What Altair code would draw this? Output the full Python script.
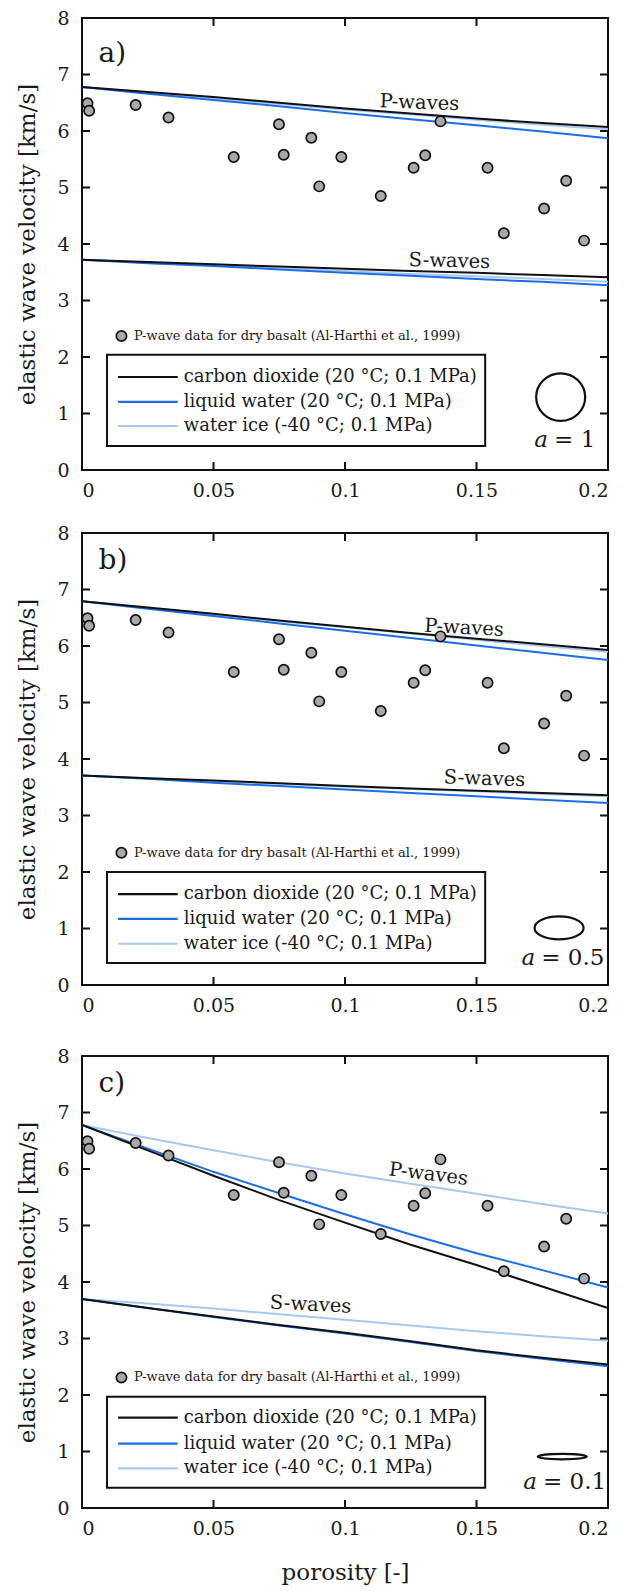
import altair as alt
import pandas as pd

# ---------------- data ----------------
# P-wave data for dry basalt (Al-Harthi et al., 1999)
phi_data = [0.0021, 0.0027, 0.0204, 0.0329, 0.0577, 0.0749, 0.0767, 0.0872, 0.0902, 0.0986,
            0.1136, 0.1261, 0.1305, 0.1363, 0.1542, 0.1604, 0.1757, 0.1841, 0.1909]
vp_data = [6.49, 6.36, 6.46, 6.24, 5.54, 6.12, 5.58, 5.88, 5.02, 5.54,
           4.85, 5.35, 5.57, 6.17, 5.35, 4.19, 4.63, 5.12, 4.06]

phi_grid = [0, 0.025, 0.05, 0.075, 0.1, 0.125, 0.15, 0.175, 0.2]

# panel a) aspect ratio 1
a_p_co2 = [6.78, 6.69, 6.60, 6.50, 6.40, 6.31, 6.22, 6.14, 6.07]
a_p_water = [6.78, 6.66, 6.55, 6.44, 6.32, 6.21, 6.10, 5.99, 5.87]
a_p_ice = [6.78, 6.68, 6.58, 6.48, 6.38, 6.29, 6.20, 6.11, 6.03]
a_s_co2 = [3.72, 3.68, 3.64, 3.60, 3.56, 3.52, 3.49, 3.45, 3.41]
a_s_water = [3.72, 3.66, 3.61, 3.55, 3.49, 3.44, 3.38, 3.33, 3.27]
a_s_ice = [3.72, 3.67, 3.62, 3.57, 3.52, 3.47, 3.43, 3.38, 3.33]

# panel b) aspect ratio 0.5
b_p_co2 = [6.79, 6.68, 6.57, 6.45, 6.34, 6.23, 6.13, 6.03, 5.93]
b_p_water = [6.79, 6.66, 6.53, 6.40, 6.27, 6.14, 6.01, 5.88, 5.75]
b_p_ice = [6.79, 6.68, 6.56, 6.44, 6.33, 6.22, 6.11, 6.00, 5.90]
b_s_co2 = [3.71, 3.66, 3.62, 3.57, 3.52, 3.48, 3.44, 3.40, 3.36]
b_s_water = [3.71, 3.65, 3.58, 3.52, 3.46, 3.40, 3.34, 3.28, 3.22]
b_s_ice = [3.71, 3.66, 3.61, 3.56, 3.51, 3.47, 3.43, 3.38, 3.34]

# panel c) aspect ratio 0.1
c_p_co2 = [6.78, 6.33, 5.88, 5.45, 5.05, 4.66, 4.30, 3.92, 3.54]
c_p_water = [6.78, 6.36, 5.95, 5.57, 5.20, 4.84, 4.51, 4.21, 3.90]
c_p_ice = [6.78, 6.55, 6.33, 6.12, 5.92, 5.74, 5.56, 5.38, 5.21]
c_s_co2 = [3.70, 3.54, 3.39, 3.24, 3.10, 2.95, 2.79, 2.66, 2.54]
c_s_water = [3.70, 3.54, 3.38, 3.23, 3.09, 2.94, 2.78, 2.64, 2.51]
c_s_ice = [3.70, 3.62, 3.53, 3.43, 3.33, 3.23, 3.13, 3.04, 2.96]

fluid_labels = ["carbon dioxide (20 °C; 0.1 MPa)",
                "liquid water (20 °C; 0.1 MPa)",
                "water ice (-40 °C; 0.1 MPa)"]
data_label = "P-wave data for dry basalt (Al-Harthi et al., 1999)"
x_ticks = [0, 0.05, 0.1, 0.15, 0.2]
y_ticks = [0, 1, 2, 3, 4, 5, 6, 7, 8]

# ---------------- style ----------------
FONT = "DejaVu Serif"
W, H = 526, 452
C_CO2, C_WATER, C_ICE = "#111111", "#1a6ee8", "#a8c8f2"
TXT = "#1a1a1a"
XS = alt.Scale(domain=[0, 0.2], nice=False, zero=False)
YS = alt.Scale(domain=[0, 8], nice=False)
TICK_PX = 8
TX = TICK_PX * 0.2 / W
TY = TICK_PX * 8 / H

ELLIPSE = "M -1 0 A 1 {r} 0 1 1 1 0 A 1 {r} 0 1 1 -1 0 Z"


def X(field, xtitle):
    return alt.X(field, type="quantitative", scale=XS, title=xtitle,
                 axis=alt.Axis(values=x_ticks, format="~g", title=xtitle))


def Y(field):
    return alt.Y(field, type="quantitative", scale=YS,
                 title="elastic wave velocity [km/s]",
                 axis=alt.Axis(values=y_ticks, format="d"))


def panel(tag, tag_y, series, pw, sw, legend_y, note_y, ell, ratio_txt, ratio_y, xtitle):
    layers = []
    # curves
    for vals, col in series:
        df = pd.DataFrame({"phi": phi_grid, "v": vals})
        layers.append(alt.Chart(df).mark_line(color=col, strokeWidth=2, clip=True)
                      .encode(x=X("phi", xtitle), y=Y("v")))
    # data points
    dfp = pd.DataFrame({"phi": phi_data, "v": vp_data})
    layers.append(alt.Chart(dfp).mark_point(filled=True, fill="#a9a9a9", stroke="#111111",
                                            strokeWidth=1.7, size=105, opacity=1, shape="circle")
                  .encode(x=X("phi", xtitle), y=Y("v")))
    # wave labels
    for lx, ly, ang, txt in [(pw[0], pw[1], pw[2], "P-waves"), (sw[0], sw[1], sw[2], "S-waves")]:
        dft = pd.DataFrame({"phi": [lx], "v": [ly], "t": [txt]})
        layers.append(alt.Chart(dft).mark_text(font=FONT, fontSize=19.5, color=TXT, angle=ang,
                                               align="center", baseline="middle")
                      .encode(x=X("phi", xtitle), y=Y("v"), text="t:N"))
    # panel tag
    dft = pd.DataFrame({"phi": [0.0063], "v": [tag_y], "t": [tag]})
    layers.append(alt.Chart(dft).mark_text(font=FONT, fontSize=28, color=TXT, align="left",
                                           baseline="alphabetic")
                  .encode(x=X("phi", xtitle), y=Y("v"), text="t:N"))
    # data note
    dfn = pd.DataFrame({"phi": [0.0150], "v": [note_y]})
    layers.append(alt.Chart(dfn).mark_point(filled=True, fill="#a9a9a9", stroke="#111111",
                                            strokeWidth=1.7, size=105, opacity=1, shape="circle")
                  .encode(x=X("phi", xtitle), y=Y("v")))
    dfn2 = pd.DataFrame({"phi": [0.0198], "v": [note_y], "t": [data_label]})
    layers.append(alt.Chart(dfn2).mark_text(font=FONT, fontSize=13, color=TXT, align="left",
                                            baseline="middle")
                  .encode(x=X("phi", xtitle), y=Y("v"), text="t:N"))
    # legend box
    top, l1, l2, l3, bot = legend_y
    dfb = pd.DataFrame({"phi": [0.0095], "phi2": [0.1533], "v": [bot], "v2": [top]})
    layers.append(alt.Chart(dfb).mark_rect(fill="white", stroke="#111111", strokeWidth=2)
                  .encode(x=X("phi", xtitle), x2="phi2", y=Y("v"), y2="v2"))
    for ly, col, lab in zip([l1, l2, l3], [C_CO2, C_WATER, C_ICE], fluid_labels):
        dfl = pd.DataFrame({"phi": [0.0137], "phi2": [0.0364], "v": [ly]})
        layers.append(alt.Chart(dfl).mark_rule(color=col, strokeWidth=2.2)
                      .encode(x=X("phi", xtitle), x2="phi2", y=Y("v")))
        dflt = pd.DataFrame({"phi": [0.0387], "v": [ly], "t": [lab]})
        layers.append(alt.Chart(dflt).mark_text(font=FONT, fontSize=18, color=TXT, align="left",
                                                baseline="middle")
                      .encode(x=X("phi", xtitle), y=Y("v"), text="t:N"))
    # pore shape
    ex, ey, er = ell
    dfe = pd.DataFrame({"phi": [ex], "v": [ey]})
    layers.append(alt.Chart(dfe).mark_point(shape=ELLIPSE.format(r=er), size=49 * 49, filled=False,
                                            stroke="#111111", strokeWidth=2.2, opacity=1)
                  .encode(x=X("phi", xtitle), y=Y("v")))
    rx = ratio_txt[0]
    dfa = pd.DataFrame({"phi": [rx], "v": [ratio_y], "t": ["a"]})
    layers.append(alt.Chart(dfa).mark_text(font=FONT, fontSize=23, fontStyle="italic", color=TXT,
                                           align="right", baseline="alphabetic", dx=-1)
                  .encode(x=X("phi", xtitle), y=Y("v"), text="t:N"))
    dfa2 = pd.DataFrame({"phi": [rx], "v": [ratio_y], "t": [ratio_txt[1]]})
    layers.append(alt.Chart(dfa2).mark_text(font=FONT, fontSize=23, color=TXT,
                                            align="left", baseline="alphabetic", dx=5)
                  .encode(x=X("phi", xtitle), y=Y("v"), text="t:N"))
    # inward ticks on all four sides
    rows = []
    for t in x_ticks[1:-1]:
        rows.append((t, t, 0, TY))
        rows.append((t, t, 8, 8 - TY))
    for t in y_ticks[1:-1]:
        rows.append((0, TX, t, t))
        rows.append((0.2, 0.2 - TX, t, t))
    dft = pd.DataFrame(rows, columns=["phi", "phi2", "v", "v2"])
    layers.append(alt.Chart(dft).mark_rule(color="#111111", strokeWidth=2)
                  .encode(x=X("phi", xtitle), x2="phi2", y=Y("v"), y2="v2"))
    return alt.layer(*layers).properties(width=W, height=H)


pa = panel("a)", 7.22,
           [(a_p_ice, C_ICE), (a_s_ice, C_ICE), (a_p_water, C_WATER), (a_s_water, C_WATER),
            (a_p_co2, C_CO2), (a_s_co2, C_CO2)],
           (0.1283, 6.50, 2), (0.1397, 3.70, 1.5),
           (2.04, 1.646, 1.204, 0.779, 0.425), 2.37,
           (0.182, 1.29, 0.97), (0.1776, "= 1"), 0.40, None)
pb = panel("b)", 7.36,
           [(b_p_ice, C_ICE), (b_s_ice, C_ICE), (b_p_water, C_WATER), (b_s_water, C_WATER),
            (b_p_co2, C_CO2), (b_s_co2, C_CO2)],
           (0.1453, 6.32, 3), (0.153, 3.65, 2),
           (2.00, 1.61, 1.17, 0.73, 0.39), 2.34,
           (0.1814, 1.01, 0.47), (0.1727, "= 0.5"), 0.35, None)
pc = panel("c)", 7.36,
           [(c_p_ice, C_ICE), (c_s_ice, C_ICE), (c_p_water, C_WATER), (c_s_water, C_WATER),
            (c_p_co2, C_CO2), (c_s_co2, C_CO2)],
           (0.1317, 5.91, 7), (0.0869, 3.60, 3),
           (1.97, 1.60, 1.14, 0.70, 0.36), 2.31,
           (0.1826, 0.91, 0.11), (0.1734, "= 0.1"), 0.34, "porosity [-]")

chart = alt.vconcat(alt.vconcat(pa, pb, spacing=22), pc, spacing=30).properties(
    padding={"left": 7, "top": 0, "right": 0, "bottom": 0}
).configure_view(stroke="#111111", strokeWidth=2).configure_axis(
    grid=False, domain=False, ticks=False,
    labelFont=FONT, labelFontSize=19, labelColor=TXT,
    titleFont=FONT, titleFontSize=23, titleFontWeight="normal", titleColor=TXT,
).configure_axisX(labelPadding=11, titlePadding=23).configure_axisY(
    labelPadding=13, titlePadding=17)

chart.save("out.html", embed_options={"renderer": "svg", "actions": False})
